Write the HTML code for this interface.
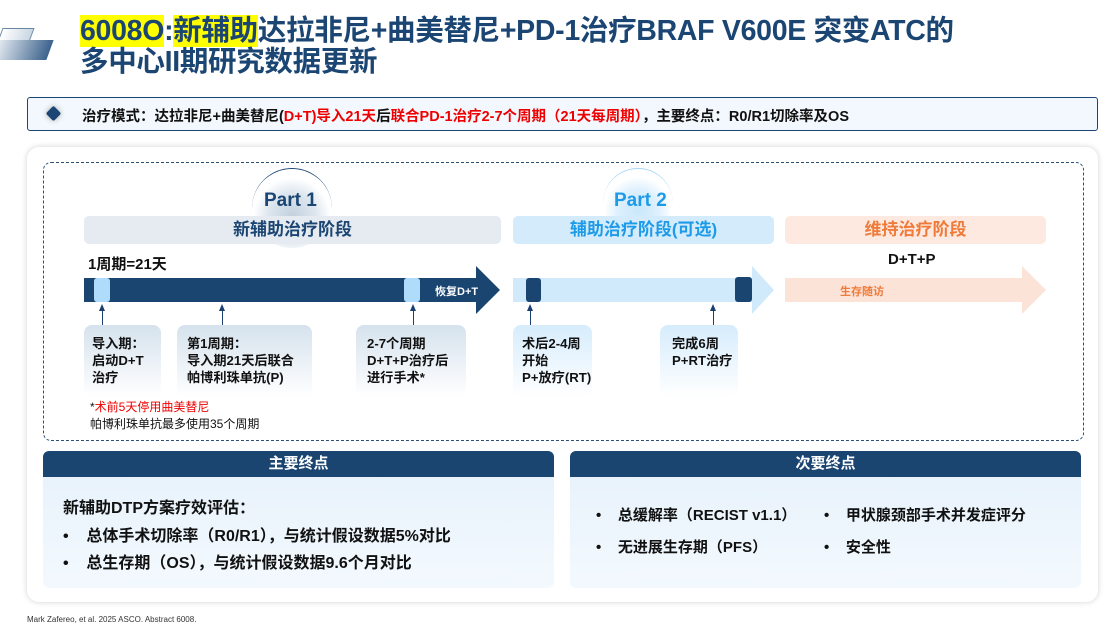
<!DOCTYPE html>
<html><head><meta charset="utf-8"><style>
*{margin:0;padding:0;box-sizing:border-box}
body{width:1114px;height:629px;background:#fff;position:relative;overflow:hidden;font-family:"Liberation Sans","Noto Sans CJK SC",sans-serif}
.a{position:absolute}
.b{font-weight:bold}
.t{color:#1b4572;font-size:28.5px;font-weight:bold;line-height:30px;white-space:nowrap;letter-spacing:-0.3px}
.hl{background:#ffff00}
.hd{position:absolute;top:216px;height:28px;border-radius:5px;text-align:center;font-size:17px;font-weight:bold;line-height:28px}
.box{position:absolute;top:325px;height:72px;border-radius:8px;background:linear-gradient(#d5e2ed,#fff);font-size:13.2px;font-weight:bold;line-height:17px;padding:10px 0 0 8px;color:#111;white-space:nowrap}
.bx2{background:linear-gradient(#d6ecfc,#fff)}
.up{position:absolute;top:306px;width:1px;height:20px;background:#1b3f6e}
.up:before{content:"";position:absolute;left:-3px;top:-2px;border-left:3.5px solid transparent;border-right:3.5px solid transparent;border-bottom:7px solid #1b3f6e}
.pn{position:absolute;top:451px;height:137px;border-radius:6px;background:linear-gradient(#e6f1fb,#f3f9fe);overflow:hidden}
.ph{height:26px;background:#1a4571;color:#fff;text-align:center;font-weight:bold;font-size:15px;line-height:26px}
.li{position:absolute;font-size:16px;font-weight:bold;color:#111;white-space:nowrap}
.r{font-size:15px}
</style></head><body>
<!-- logo -->
<div class="a" style="left:0;top:28px;width:32px;height:14px;background:linear-gradient(90deg,#ffffff,#c9d6e3);border:1px solid #6d88a6;transform:skewX(-20deg);transform-origin:left"></div>
<div class="a" style="left:-5px;top:40px;width:55px;height:20px;background:linear-gradient(90deg,#e6ecf2,#3c628c);transform:skewX(-20deg)"></div>
<div class="a t" style="left:80px;top:16px"><span class="hl">6008O</span>:<span class="hl">新辅助</span>达拉非尼+曲美替尼+PD-1治疗BRAF V600E 突变ATC的</div>
<div class="a t" style="left:80px;top:47px">多中心II期研究数据更新</div>
<!-- info bar -->
<div class="a" style="left:27px;top:97px;width:1071px;height:34px;border:1.5px solid #1b4572;border-radius:3px;background:#f2f8fd"></div>
<div class="a" style="left:48px;top:108px;width:11px;height:11px;background:#1b4572;transform:rotate(45deg);border-radius:2px;box-shadow:0 0 6px #aaa"></div>
<div class="a b" style="left:82px;top:105px;font-size:14.5px;white-space:nowrap;color:#111">治疗模式：达拉非尼+曲美替尼(<span style="color:#e00">D+T)导入21天</span>后<span style="color:#e00">联合PD-1治疗2-7个周期（21天每周期）</span>，主要终点：R0/R1切除率及OS</div>
<!-- card -->
<div class="a" style="left:27px;top:147px;width:1071px;height:455px;border-radius:12px;background:#fff;box-shadow:0 0 6px rgba(0,0,0,.18)"></div>
<div class="a" style="left:43px;top:162px;width:1041px;height:279px;border:1px dashed #2c4f78;border-radius:8px"></div>
<!-- parts -->
<div class="a" style="left:252px;top:168px;width:80px;height:80px;border-radius:50%;border-top:1px solid #1b4572;background:radial-gradient(circle at 50% 60%,#c2d1df 0,#dde6ee 38%,rgba(255,255,255,0) 62%)"></div>
<div class="a b" style="left:264px;top:190px;font-size:19px;color:#1b4572">Part 1</div>
<div class="a" style="left:603px;top:168px;width:70px;height:70px;border-radius:50%;border-top:1px solid #a9d6f5;background:radial-gradient(circle at 50% 60%,#c9e7fb 0,#def0fd 38%,rgba(255,255,255,0) 62%)"></div>
<div class="a b" style="left:614px;top:190px;font-size:19px;color:#1e9be8">Part 2</div>
<div class="hd" style="left:84px;width:417px;background:#e5ebf0;color:#1b4572">新辅助治疗阶段</div>
<div class="hd" style="left:513px;width:261px;background:#d3ebfb;color:#1e9be8">辅助治疗阶段(可选)</div>
<div class="hd" style="left:785px;width:261px;background:#fde9df;color:#ef7b3a">维持治疗阶段</div>
<div class="a b" style="left:88px;top:253px;font-size:15px;color:#111">1周期=21天</div>
<div class="a b" style="left:888px;top:251px;font-size:15px;color:#111">D+T+P</div>
<!-- arrows -->
<svg class="a" style="left:0;top:0" width="1114" height="629">
<polygon points="84,278 476,278 476,266 500,290 476,314 476,302 84,302" fill="#1a4571"/>
<polygon points="513,278 752,278 752,266 774,290 752,314 752,302 513,302" fill="#d0eafc"/>
<polygon points="785,278 1022,278 1022,266 1046,290 1022,314 1022,302 785,302" fill="#fce3d7"/>
<rect x="94" y="278" width="16" height="24" rx="3" fill="#aedcfa"/>
<rect x="404" y="278" width="16" height="24" rx="3" fill="#aedcfa"/>
<rect x="526" y="278" width="15" height="24" rx="3" fill="#1a4571"/>
<rect x="735" y="277" width="17" height="25" rx="3" fill="#1a4571"/>
</svg>
<div class="a b" style="left:435px;top:283px;font-size:11px;color:#fff">恢复D+T</div>
<div class="a b" style="left:840px;top:283px;font-size:11px;color:#ef7b3a">生存随访</div>
<div class="up" style="left:102px"></div><div class="up" style="left:222px"></div><div class="up" style="left:413px"></div><div class="up" style="left:530px"></div><div class="up" style="left:713px"></div>
<div class="box" style="left:84px;width:77px">导入期：<br>启动D+T<br>治疗</div>
<div class="box" style="left:177px;width:135px;padding-left:10px">第1周期：<br>导入期21天后联合<br>帕博利珠单抗(P)</div>
<div class="box" style="left:356px;width:110px;padding-left:11px">2-7个周期<br>D+T+P治疗后<br>进行手术*</div>
<div class="box bx2" style="left:513px;width:79px;padding-left:9px">术后2-4周<br>开始<br>P+放疗(RT)</div>
<div class="box bx2" style="left:660px;width:78px;padding-left:12px">完成6周<br>P+RT治疗</div>
<div class="a" style="left:90px;top:399px;font-size:12px;color:#111;line-height:17px">*<span style="color:#e00">术前5天停用曲美替尼</span><br>帕博利珠单抗最多使用35个周期</div>
<!-- panels -->
<div class="pn" style="left:43px;width:511px"><div class="ph">主要终点</div></div>
<div class="pn" style="left:570px;width:511px"><div class="ph">次要终点</div></div>
<div class="li" style="left:63px;top:494px">新辅助DTP方案疗效评估：</div>
<div class="li" style="left:63px;top:522px">•&nbsp;&nbsp;&nbsp;&nbsp;总体手术切除率（R0/R1），与统计假设数据5%对比</div>
<div class="li" style="left:63px;top:549px">•&nbsp;&nbsp;&nbsp;&nbsp;总生存期（OS），与统计假设数据9.6个月对比</div>
<div class="li r" style="left:596px;top:504px">•&nbsp;&nbsp;&nbsp;&nbsp;总缓解率（RECIST v1.1）</div>
<div class="li r" style="left:596px;top:536px">•&nbsp;&nbsp;&nbsp;&nbsp;无进展生存期（PFS）</div>
<div class="li r" style="left:824px;top:504px">•&nbsp;&nbsp;&nbsp;&nbsp;甲状腺颈部手术并发症评分</div>
<div class="li r" style="left:824px;top:536px">•&nbsp;&nbsp;&nbsp;&nbsp;安全性</div>
<div class="a" style="left:27px;top:615px;font-size:8px;color:#333">Mark Zafereo, et al. 2025 ASCO. Abstract 6008.</div>
</body></html>
